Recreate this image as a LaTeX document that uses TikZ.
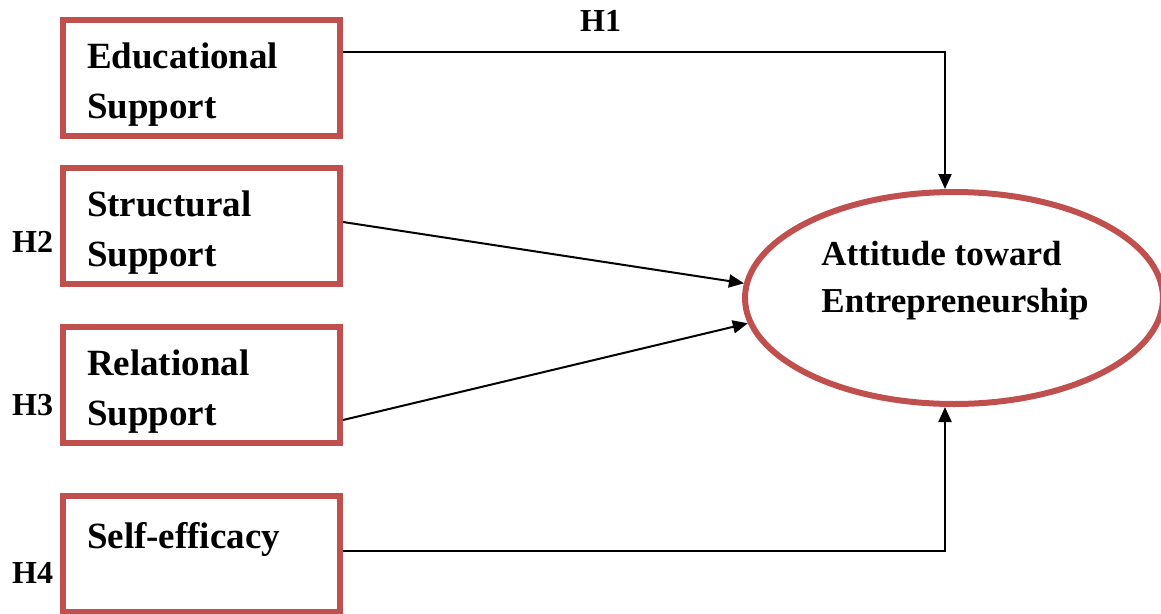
\documentclass[tikz,border=0pt]{standalone}
\usepackage{fontspec}
\setmainfont{Liberation Serif}
\usetikzlibrary{positioning,shapes.geometric,arrows.meta,calc}
\definecolor{boxColor}{RGB}{192,80,77}

\begin{document}
\begin{tikzpicture}[x=1pt,y=-1pt]
    \tikzstyle{construct} = [rectangle,draw=boxColor,line width=6pt,minimum width=277pt,minimum height=116pt,text width=229pt,inner xsep=24pt,align=left,font=\bfseries\fontsize{37}{50}\selectfont,execute at begin node={\rule{0pt}{38pt}}]
    \tikzstyle{outcome} = [ellipse,draw=boxColor,line width=6pt,minimum width=418pt,minimum height=212pt,inner sep=0pt]
    \tikzstyle{hyp} = [anchor=base west,inner sep=0pt,font=\bfseries\fontsize{32}{38}\selectfont]
    \tikzstyle{link} = [->,line width=2pt]
    \tikzset{>={Triangle[length=15pt,width=13pt]}}

    \useasboundingbox (0,0) rectangle (1161,613);

    \node [construct] (edu) at (201.5,78) {Educational\\Support};
    \node [construct, below=26pt of edu] (str) {Structural\\Support};
    \node [construct, below=37pt of str] (rel) {Relational\\Support};
    \node [construct, below=47pt of rel] (self) {Self-efficacy\\\mbox{}};

    \node [outcome, label={[align=left,yshift=17pt,xshift=1pt,font=\bfseries\fontsize{35}{47}\selectfont]center:Attitude toward\\Entrepreneurship}] (att) at (954,298) {};

    % hypotheses
    \node [hyp] (h1) at (580,31) {H1};
    \node [hyp] (h2) at (12,252) {H2};
    \node [hyp] (h3) at (12,415) {H3};
    \node [hyp] (h4) at (12,583) {H4};

    \draw [link] ([yshift=26pt]edu.east) -| ([xshift=-9pt]att.north);
    \draw [link] ([yshift=4pt]str.east) -- (att.176);
    \draw [link] ([yshift=-35pt]rel.east) -- (att.187);
    \draw [link] ([yshift=3pt]self.east) -| ([xshift=-9pt]att.south);

\end{tikzpicture}
\end{document}
